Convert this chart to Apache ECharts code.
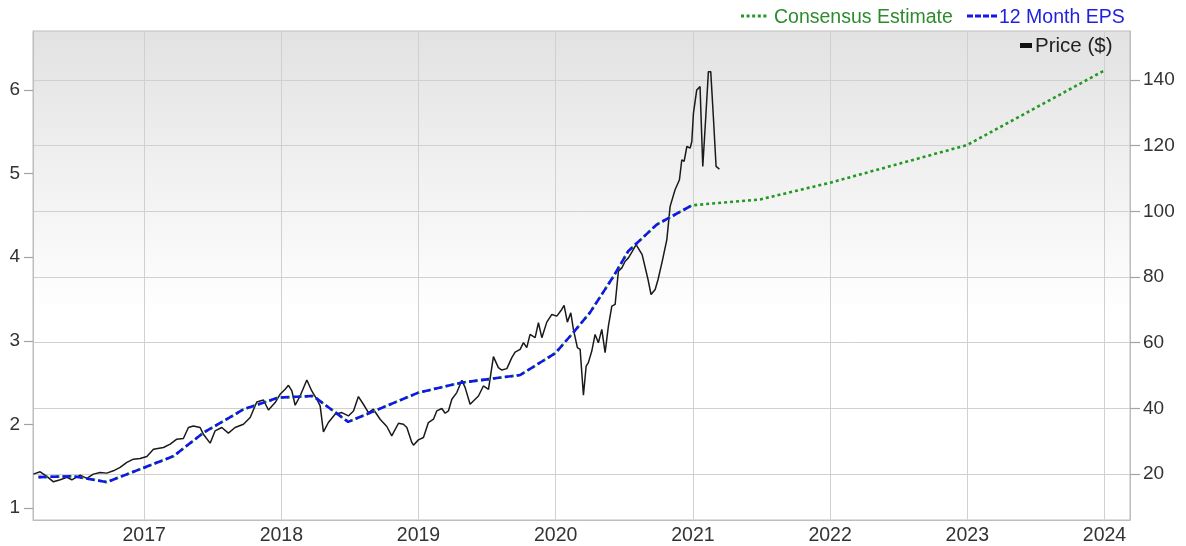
<!DOCTYPE html>
<html>
<head>
<meta charset="utf-8">
<script src="https://cdn.jsdelivr.net/npm/echarts@6.0.0/dist/echarts.min.js"></script>
<style>
html,body{margin:0;padding:0;background:#fff;}
#chart{width:1186px;height:546px;}
</style>
</head>
<body>
<div id="chart"></div>
<script>
// ---- Data (x values are decimal years) ----
const yearTicks = [2017, 2018, 2019, 2020, 2021, 2022, 2023, 2024];
const epsTicks = [1, 2, 3, 4, 5, 6];
const priceTicks = [20, 40, 60, 80, 100, 120, 140];

const priceYears = [
  2016.193, 2016.242, 2016.291, 2016.339, 2016.388, 2016.437, 2016.473, 2016.534, 2016.582, 2016.630,
  2016.679, 2016.728, 2016.776, 2016.825, 2016.874, 2016.922, 2016.971, 2017.020, 2017.068, 2017.141,
  2017.190, 2017.238, 2017.286, 2017.323, 2017.359, 2017.408, 2017.432, 2017.481, 2017.517, 2017.566,
  2017.614, 2017.663, 2017.724, 2017.773, 2017.821, 2017.870, 2017.906, 2017.955, 2017.991, 2018.028,
  2018.052, 2018.077, 2018.101, 2018.137, 2018.186, 2018.222, 2018.259, 2018.283, 2018.307, 2018.343,
  2018.392, 2018.441, 2018.489, 2018.526, 2018.562, 2018.598, 2018.635, 2018.671, 2018.720, 2018.769,
  2018.805, 2018.854, 2018.890, 2018.915, 2018.951, 2018.963, 2018.999, 2019.036, 2019.072, 2019.109,
  2019.133, 2019.170, 2019.194, 2019.218, 2019.243, 2019.279, 2019.316, 2019.340, 2019.376, 2019.400,
  2019.437, 2019.473, 2019.510, 2019.522, 2019.546, 2019.582, 2019.607, 2019.644, 2019.680, 2019.704,
  2019.741, 2019.765, 2019.789, 2019.813, 2019.850, 2019.874, 2019.899, 2019.935, 2019.972, 2020.008,
  2020.044, 2020.061, 2020.085, 2020.110, 2020.129, 2020.158, 2020.178, 2020.202, 2020.222, 2020.238,
  2020.263, 2020.287, 2020.311, 2020.336, 2020.360, 2020.384, 2020.409, 2020.433, 2020.457, 2020.482,
  2020.506, 2020.530, 2020.557, 2020.586, 2020.630, 2020.673, 2020.695, 2020.725, 2020.746, 2020.776,
  2020.810, 2020.834, 2020.870, 2020.902, 2020.919, 2020.936, 2020.956, 2020.980, 2020.992, 2021.004,
  2021.028, 2021.052, 2021.072, 2021.094, 2021.113, 2021.130, 2021.149, 2021.169, 2021.193
];
const priceValues = [
  20.00, 20.70, 19.30, 17.66, 18.27, 19.00, 18.27, 19.70, 18.69, 20.00,
  20.52, 20.30, 21.00, 22.04, 23.55, 24.56, 24.77, 25.38, 27.60, 28.11,
  29.11, 30.63, 30.85, 34.19, 34.67, 34.19, 32.15, 29.42, 33.15, 34.19,
  32.46, 34.19, 35.19, 37.23, 41.96, 42.57, 39.53, 41.78, 44.30, 45.82,
  47.04, 45.31, 40.96, 43.79, 48.65, 45.31, 42.78, 40.75, 32.85, 35.71,
  38.23, 38.74, 37.71, 39.23, 43.61, 41.27, 38.74, 39.75, 36.71, 34.49,
  31.64, 35.49, 35.19, 34.19, 29.63, 28.81, 30.42, 31.15, 35.71, 36.71,
  39.23, 39.96, 38.53, 39.23, 42.78, 44.82, 48.56, 46.34, 41.27, 42.27,
  43.79, 46.83, 45.82, 45.31, 55.76, 52.41, 51.69, 52.11, 55.45, 57.15,
  57.97, 60.01, 58.49, 62.53, 61.53, 66.09, 61.53, 66.27, 68.61, 68.09,
  70.13, 71.34, 66.27, 69.12, 64.05, 58.49, 57.97, 44.00, 52.90, 53.93,
  57.46, 62.53, 60.01, 64.05, 56.97, 65.05, 71.13, 71.65, 81.76, 82.79,
  84.80, 85.83, 87.75, 89.87, 86.84, 79.24, 74.68, 76.20, 79.24, 84.71,
  91.39, 101.51, 106.58, 109.62, 115.70, 115.18, 119.74, 119.25, 121.26, 129.88,
  136.96, 137.96, 113.66, 128.85, 142.52, 142.52, 128.85, 113.66, 112.87
];

const epsYears = [
  2016.230, 2016.485, 2016.728, 2017.214, 2017.432, 2017.724, 2017.977, 2018.232, 2018.487, 2018.999,
  2019.316, 2019.740, 2019.996, 2020.129, 2020.251, 2020.421, 2020.528, 2020.737, 2020.994
];
const epsValues = [
  1.37, 1.38, 1.31, 1.62, 1.90, 2.18, 2.32, 2.34, 2.03, 2.38,
  2.50, 2.59, 2.85, 3.10, 3.34, 3.77, 4.07, 4.39, 4.62
];

const estimateYears = [2020.994, 2021.490, 2022.000, 2022.998, 2023.997];
const estimateValues = [4.62, 4.69, 4.89, 5.34, 6.23];

// ---- Build series data ----
function pairs(xs, ys) { return xs.map((x, i) => [x, ys[i]]); }
const priceData = pairs(priceYears, priceValues);
const epsData = pairs(epsYears, epsValues);
const estimateData = pairs(epsYears.concat(estimateYears.slice(1)), epsValues.concat(estimateValues.slice(1)));

const FONT = 'Liberation Sans, Arial, Helvetica, sans-serif';
const GREEN = '#229922';
const BLUE = '#1414ee';
const BORDER = '#bdbdbd';

const chart = echarts.init(document.getElementById('chart'));
chart.setOption({
  animation: false,
  backgroundColor: '#ffffff',
  textStyle: { fontFamily: FONT },
  grid: {
    left: 33, right: 56, top: 31, bottom: 25,
    show: true,
    borderColor: BORDER,
    borderWidth: 1,
    backgroundColor: new echarts.graphic.LinearGradient(0, 0, 0, 1, [
      { offset: 0, color: '#e2e2e2' },
      { offset: 0.58, color: '#ffffff' },
      { offset: 1, color: '#ffffff' }
    ])
  },
  xAxis: {
    type: 'value',
    min: 2016.19,
    max: 2024.186,
    splitNumber: 8,
    axisLine: { show: true, onZero: false, lineStyle: { color: BORDER, width: 1 } },
    axisTick: { show: false },
    axisLabel: {
      customValues: yearTicks,
      formatter: v => String(v),
      fontSize: 19.5, color: '#333', margin: 6, fontFamily: FONT
    },
    splitLine: { show: true, lineStyle: { color: '#d0d0d0', width: 1 } }
  },
  yAxis: [
    {
      type: 'value',
      position: 'left',
      min: 0.857,
      max: 6.704,
      axisLine: { show: true, onZero: false, lineStyle: { color: BORDER, width: 1 } },
      axisTick: { show: true, length: 9, customValues: epsTicks, lineStyle: { color: '#a3a3a3', width: 1.2 } },
      axisLabel: { customValues: epsTicks, fontSize: 19, color: '#333', margin: 13, fontFamily: FONT },
      splitLine: { show: false }
    },
    {
      type: 'value',
      position: 'right',
      min: 6.03,
      max: 154.9,
      axisLine: { show: true, onZero: false, lineStyle: { color: BORDER, width: 1 } },
      axisTick: { show: true, length: 10, customValues: priceTicks, lineStyle: { color: '#a3a3a3', width: 1.2 } },
      axisLabel: { customValues: priceTicks, fontSize: 19, color: '#333', margin: 13, fontFamily: FONT },
      splitLine: { show: true, lineStyle: { color: '#d0d0d0', width: 1 } }
    }
  ],
  series: [
    {
      name: 'Price ($)', type: 'line', yAxisIndex: 1, data: priceData,
      symbol: 'none', smooth: false,
      lineStyle: { color: '#1a1a1a', width: 1.5 }, z: 2
    },
    {
      name: 'Consensus Estimate', type: 'line', yAxisIndex: 0, data: estimateData,
      symbol: 'none', smooth: false,
      lineStyle: { color: GREEN, width: 2.6, type: [3, 3] }, z: 3
    },
    {
      name: '12 Month EPS', type: 'line', yAxisIndex: 0, data: epsData,
      symbol: 'none', smooth: false,
      lineStyle: { color: BLUE, width: 2.6, type: [8, 4] }, z: 4
    }
  ],
  graphic: [
    { type: 'line', shape: { x1: 741, y1: 16, x2: 768, y2: 16 }, style: { stroke: GREEN, lineWidth: 3, lineDash: [3, 2.6] } },
    { type: 'text', x: 774, y: 8, style: { text: 'Consensus Estimate', fill: '#2e8b2e', font: '19.5px ' + FONT } },
    { type: 'line', shape: { x1: 967, y1: 16, x2: 997, y2: 16 }, style: { stroke: BLUE, lineWidth: 3, lineDash: [6, 2] } },
    { type: 'text', x: 999, y: 8, style: { text: '12 Month EPS', fill: '#1f1fdd', font: '19.5px ' + FONT } },
    { type: 'rect', shape: { x: 1020, y: 43, width: 12, height: 5 }, style: { fill: '#111' }, z: 10 },
    { type: 'text', x: 1035, y: 36, style: { text: 'Price ($)', fill: '#222', font: '20.5px ' + FONT }, z: 10 }
  ]
});
</script>
</body>
</html>
